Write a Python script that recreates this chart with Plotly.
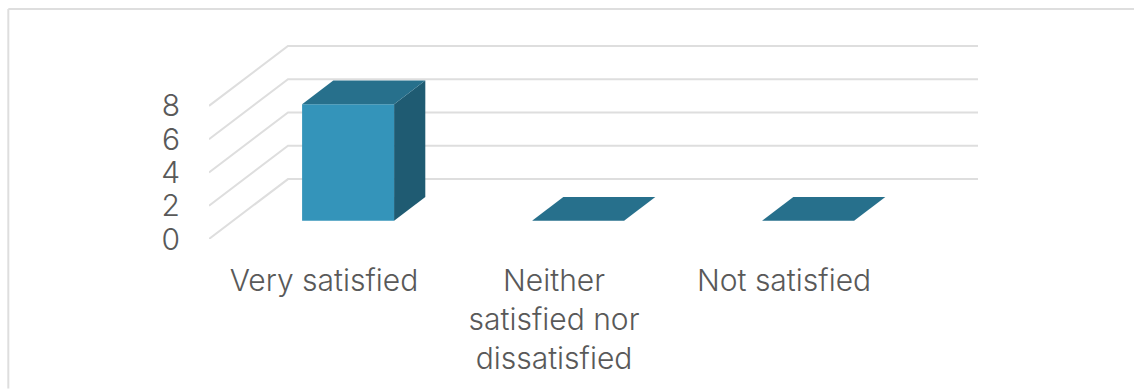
import plotly.graph_objects as go

categories = ["Very satisfied", "Neither<br>satisfied nor<br>dissatisfied", "Not satisfied"]
values = [7, 0, 0]
y_ticks = [0, 2, 4, 6, 8]

FRONT, TOP, SIDE = "#3494BA", "#27708C", "#1F5B72"
GRID = "#DEDEDE"
TEXT = "#595959"
FONT = "Inter"

# plot rectangle in window pixels
W, H = 1134, 389
L, R, T, B = 209, 978, 45, 239.3
CAT_PX, UNIT_PX = 230, 16.67
x_range = [0, (R - L) / CAT_PX]
y_range = [0, (B - T) / UNIT_PX]
DX, DY = 79 / CAT_PX, 60 / UNIT_PX      # oblique offset of the full floor depth
BAR_W, Z0, Z1 = 0.4, 0.305, 0.70        # bar width in categories, depth span


def proj(x, v, z):
    return x + DX * z, v + DY * z


fig = go.Figure()


def poly(points, color):
    xs, ys = zip(*(proj(*p) for p in points + points[:1]))
    fig.add_trace(go.Scatter(x=xs, y=ys, mode="lines", fill="toself", fillcolor=color,
                             line=dict(width=0, color=color), hoverinfo="skip", showlegend=False))


for v in y_ticks:
    pts = [proj(0, v, 0), proj(0, v, 1), proj(len(categories), v, 1)]
    fig.add_trace(go.Scatter(x=[p[0] for p in pts], y=[p[1] for p in pts], mode="lines",
                             line=dict(color=GRID, width=2), hoverinfo="skip", showlegend=False))

for i, v in enumerate(values):
    a, b = i + 0.5 - BAR_W / 2, i + 0.5 + BAR_W / 2
    if v > 0:
        poly([(b, 0, Z0), (b, 0, Z1), (b, v, Z1), (b, v, Z0)], SIDE)
        poly([(a, 0, Z0), (b, 0, Z0), (b, v, Z0), (a, v, Z0)], FRONT)
    poly([(a, v, Z0), (b, v, Z0), (b, v, Z1), (a, v, Z1)], TOP)

px = lambda x: (x - L) / (R - L)
py = lambda y: (B - y) / (B - T)
frame = dict(type="line", xref="paper", yref="paper", line=dict(color=GRID, width=2))
fig.update_layout(
    width=W, height=H, autosize=False,
    margin=dict(l=L, r=W - R, t=T, b=H - B, pad=0, autoexpand=False),
    paper_bgcolor="white", plot_bgcolor="white",
    font=dict(family=FONT, color=TEXT, size=30, weight=300),
    showlegend=False,
    shapes=[
        dict(frame, x0=px(8.3), x1=px(W), y0=py(9), y1=py(9)),
        dict(frame, x0=px(8.3), x1=px(8.3), y0=py(9), y1=py(H)),
    ],
    xaxis=dict(range=x_range, tickmode="array", tickvals=[i + 0.5 for i in range(len(categories))],
               ticktext=categories, showgrid=False, zeroline=False, showline=False, ticks="",
               ticklabelstandoff=21, tickangle=0, fixedrange=True, automargin=False, tickfont=dict(size=30)),
    yaxis=dict(range=y_range, tickmode="array", tickvals=y_ticks, ticktext=[str(t) for t in y_ticks],
               showgrid=False, zeroline=False, showline=False, ticks="",
               ticklabelstandoff=28, fixedrange=True, automargin=False, tickfont=dict(size=30)),
)
fig.write_html("out.html", config={"displayModeBar": False},
               post_script="document.body.style.margin='0';document.documentElement.style.overflow='hidden';")
